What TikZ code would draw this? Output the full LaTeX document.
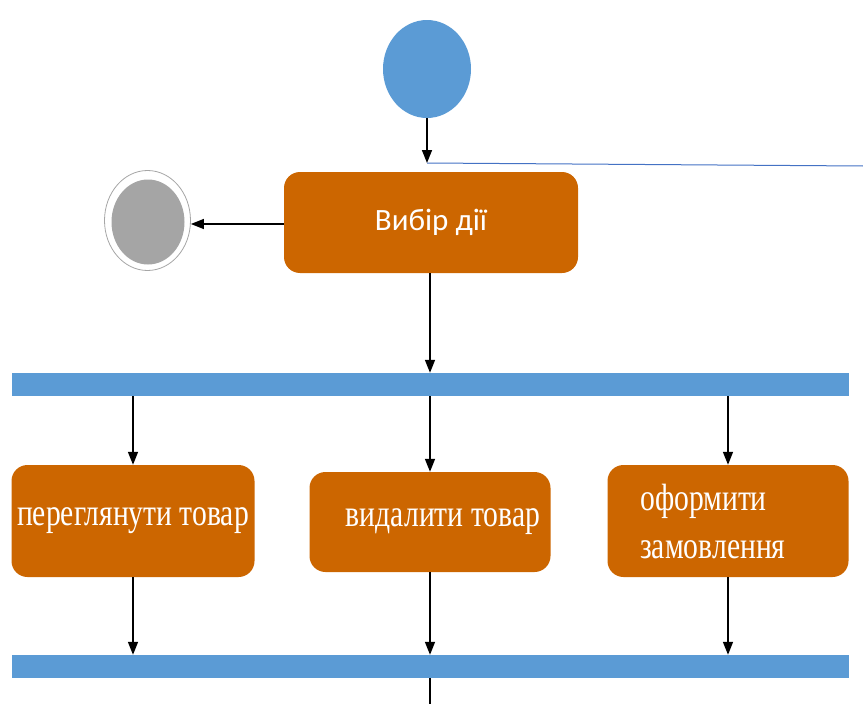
\documentclass[tikz,border=0pt]{standalone}
\usepackage{fontspec}
\setmainfont{Liberation Serif}
\newfontfamily\boxserif[FakeStretch=0.78]{Liberation Serif}
\newfontfamily\boxsans{Carlito}
\usetikzlibrary{arrows.meta,shapes.geometric}
\definecolor{actorange}{HTML}{CC6600}
\definecolor{barblue}{HTML}{5B9BD5}
\definecolor{lineblue}{HTML}{4472C4}
\definecolor{finalgray}{HTML}{A5A5A5}
\tikzset{
  actbox/.style={draw=none, fill=actorange, rounded corners=16pt, text=white, inner sep=0pt},
  boxtext/.style={text=white, inner sep=0pt, font=\boxserif\fontsize{38}{48}\selectfont},
  syncbar/.style={fill=barblue, draw=none, inner sep=0pt},
  flow/.style={draw=black, line width=1.5pt, -{Triangle[length=13pt,width=10pt]}},
  plainflow/.style={draw=black, line width=1.5pt},
}
\begin{document}
\begin{tikzpicture}[x=1pt,y=-1pt]
\useasboundingbox (0,0) rectangle (863,704);
% initial node
\node[ellipse, fill=barblue, draw=none, minimum width=88pt, minimum height=98pt, inner sep=0pt] (start) at (427,69) {};
% choice box
\node[actbox, minimum width=294pt, minimum height=101pt, font=\boxsans\fontsize{31}{36}\selectfont] (choice) at (431,222.5) {Вибір дії};
\coordinate (entry) at (427,163);
\coordinate (rightend) at (863,166);
\draw[flow] (start.south) -- (entry);
\draw[lineblue, line width=1pt] (entry) -- (rightend);
% final node
\node[ellipse, draw=gray!70, line width=0.8pt, fill=white, minimum width=86pt, minimum height=100pt, inner sep=0pt] (final) at (147.5,220.5) {};
\node[ellipse, fill=finalgray, draw=none, minimum width=73pt, minimum height=85pt, inner sep=0pt] (finalin) at (148,222) {};
\draw[flow] (choice.west |- 0,224) -- (final.east |- 0,224);
% fork bar
\node[syncbar, minimum width=837pt, minimum height=23pt] (fork) at (430.5,384.5) {};
\draw[flow] (choice.south -| 430,0) -- (fork.north -| 430,0);
% activity boxes
\node[actbox, minimum width=243pt, minimum height=112pt] (view) at (133,521) {};
\node[boxtext] (viewtext) at (133,521) {переглянути товар};
\node[actbox, minimum width=241pt, minimum height=100pt] (del) at (430,522) {};
\node[boxtext] (deltext) at (443,522) {видалити товар};
\node[actbox, minimum width=241pt, minimum height=112pt] (order) at (728,521) {};
\node[boxtext, anchor=west, align=left] (ordertext) at (640,521) {оформити\\замовлення};
\draw[flow] (fork.south -| view.north) -- (view.north);
\draw[flow] (fork.south -| del.north) -- (del.north);
\draw[flow] (fork.south -| order.north) -- (order.north);
% join bar
\node[syncbar, minimum width=837pt, minimum height=23pt] (join) at (430.5,666.5) {};
\draw[flow] (view.south) -- (view.south |- join.north);
\draw[flow] (del.south) -- (del.south |- join.north);
\draw[flow] (order.south) -- (order.south |- join.north);
\coordinate (bottomend) at (430,704);
\draw[plainflow] (join.south -| bottomend) -- (bottomend);
\end{tikzpicture}
\end{document}
